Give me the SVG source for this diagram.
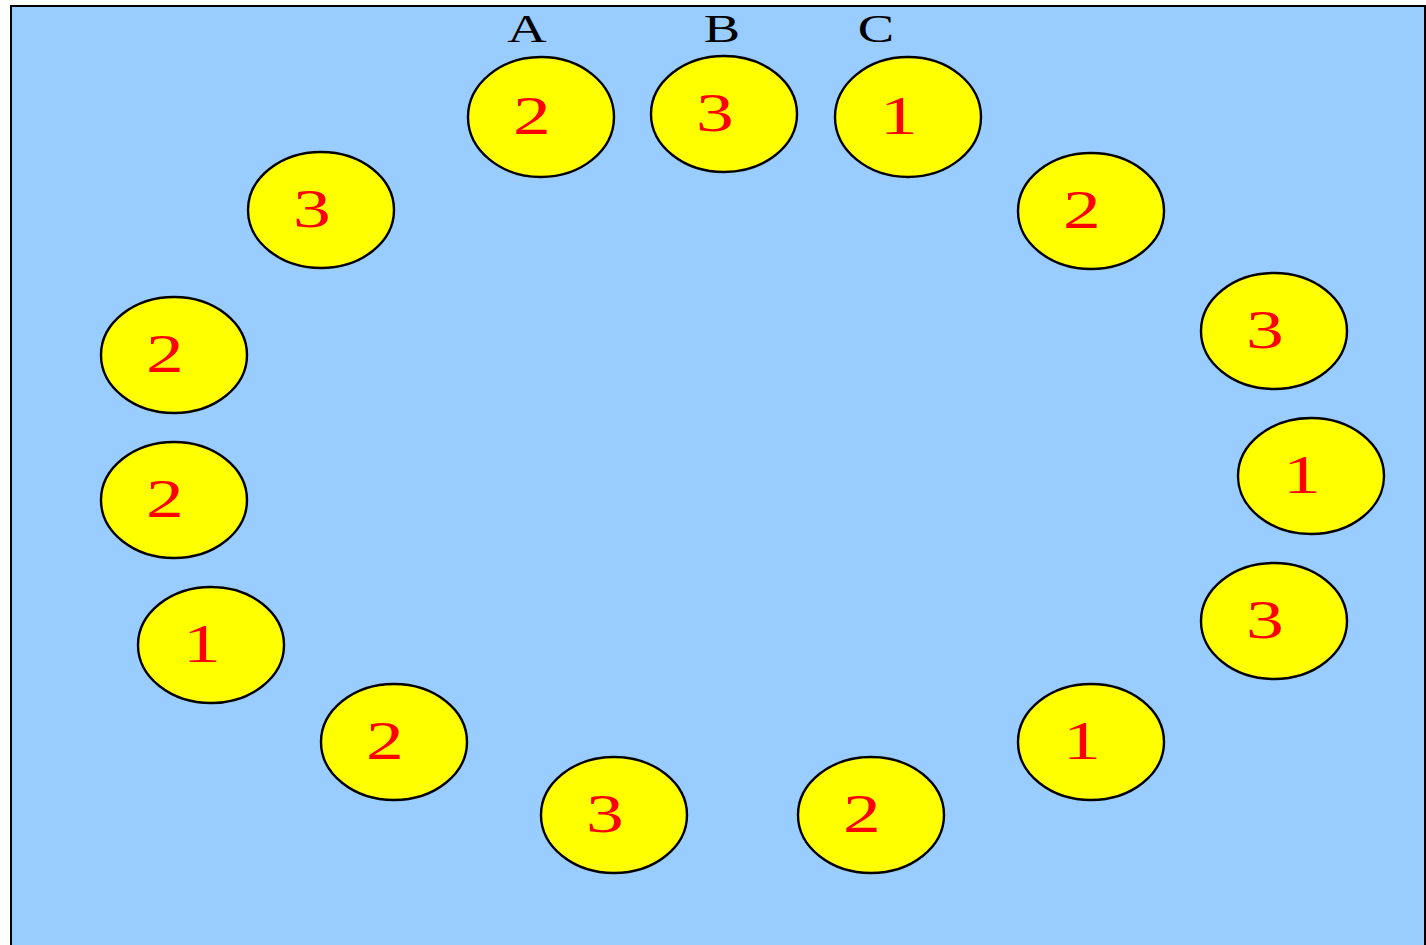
<svg xmlns="http://www.w3.org/2000/svg" width="1426" height="945" viewBox="0 0 1426 945">
<style>
.n ellipse{fill:#FFFF00;stroke:#000;stroke-width:2.4}
.n text{fill:#FF0000;font-family:"Liberation Serif",serif;font-size:54px;text-anchor:middle}
.lbl{fill:#000;font-family:"Liberation Serif",serif;font-size:39px;text-anchor:middle}
</style>
<rect x="11" y="6" width="1414" height="960" fill="#99CCFF" stroke="#000" stroke-width="2"/>
<g id="labels">
<text class="lbl" transform="translate(527,42) scale(1.4,1)">A</text>
<text class="lbl" transform="translate(722,42) scale(1.4,1)">B</text>
<text class="lbl" transform="translate(876,42) scale(1.4,1)">C</text>
</g>
<g id="connectors"/>
<g id="n1" class="n"><ellipse cx="541" cy="117" rx="73" ry="60"/><text transform="translate(532,134) scale(1.4,1)">2</text></g>
<g id="n2" class="n"><ellipse cx="724" cy="114" rx="73" ry="58"/><text transform="translate(715,131) scale(1.4,1)">3</text></g>
<g id="n3" class="n"><ellipse cx="908" cy="117" rx="73" ry="60"/><text transform="translate(899,134) scale(1.4,1)">1</text></g>
<g id="n4" class="n"><ellipse cx="1091" cy="211" rx="73" ry="58"/><text transform="translate(1082,228) scale(1.4,1)">2</text></g>
<g id="n5" class="n"><ellipse cx="1274" cy="331" rx="73" ry="58"/><text transform="translate(1265,348) scale(1.4,1)">3</text></g>
<g id="n6" class="n"><ellipse cx="1311" cy="476" rx="73" ry="58"/><text transform="translate(1302,493) scale(1.4,1)">1</text></g>
<g id="n7" class="n"><ellipse cx="1274" cy="621" rx="73" ry="58"/><text transform="translate(1265,638) scale(1.4,1)">3</text></g>
<g id="n8" class="n"><ellipse cx="1091" cy="742" rx="73" ry="58"/><text transform="translate(1082,759) scale(1.4,1)">1</text></g>
<g id="n9" class="n"><ellipse cx="871" cy="815" rx="73" ry="58"/><text transform="translate(862,832) scale(1.4,1)">2</text></g>
<g id="n10" class="n"><ellipse cx="614" cy="815" rx="73" ry="58"/><text transform="translate(605,832) scale(1.4,1)">3</text></g>
<g id="n11" class="n"><ellipse cx="394" cy="742" rx="73" ry="58"/><text transform="translate(385,759) scale(1.4,1)">2</text></g>
<g id="n12" class="n"><ellipse cx="211" cy="645" rx="73" ry="58"/><text transform="translate(202,662) scale(1.4,1)">1</text></g>
<g id="n13" class="n"><ellipse cx="174" cy="500" rx="73" ry="58"/><text transform="translate(165,517) scale(1.4,1)">2</text></g>
<g id="n14" class="n"><ellipse cx="174" cy="355" rx="73" ry="58"/><text transform="translate(165,372) scale(1.4,1)">2</text></g>
<g id="n15" class="n"><ellipse cx="321" cy="210" rx="73" ry="58"/><text transform="translate(312,227) scale(1.4,1)">3</text></g>
</svg>
